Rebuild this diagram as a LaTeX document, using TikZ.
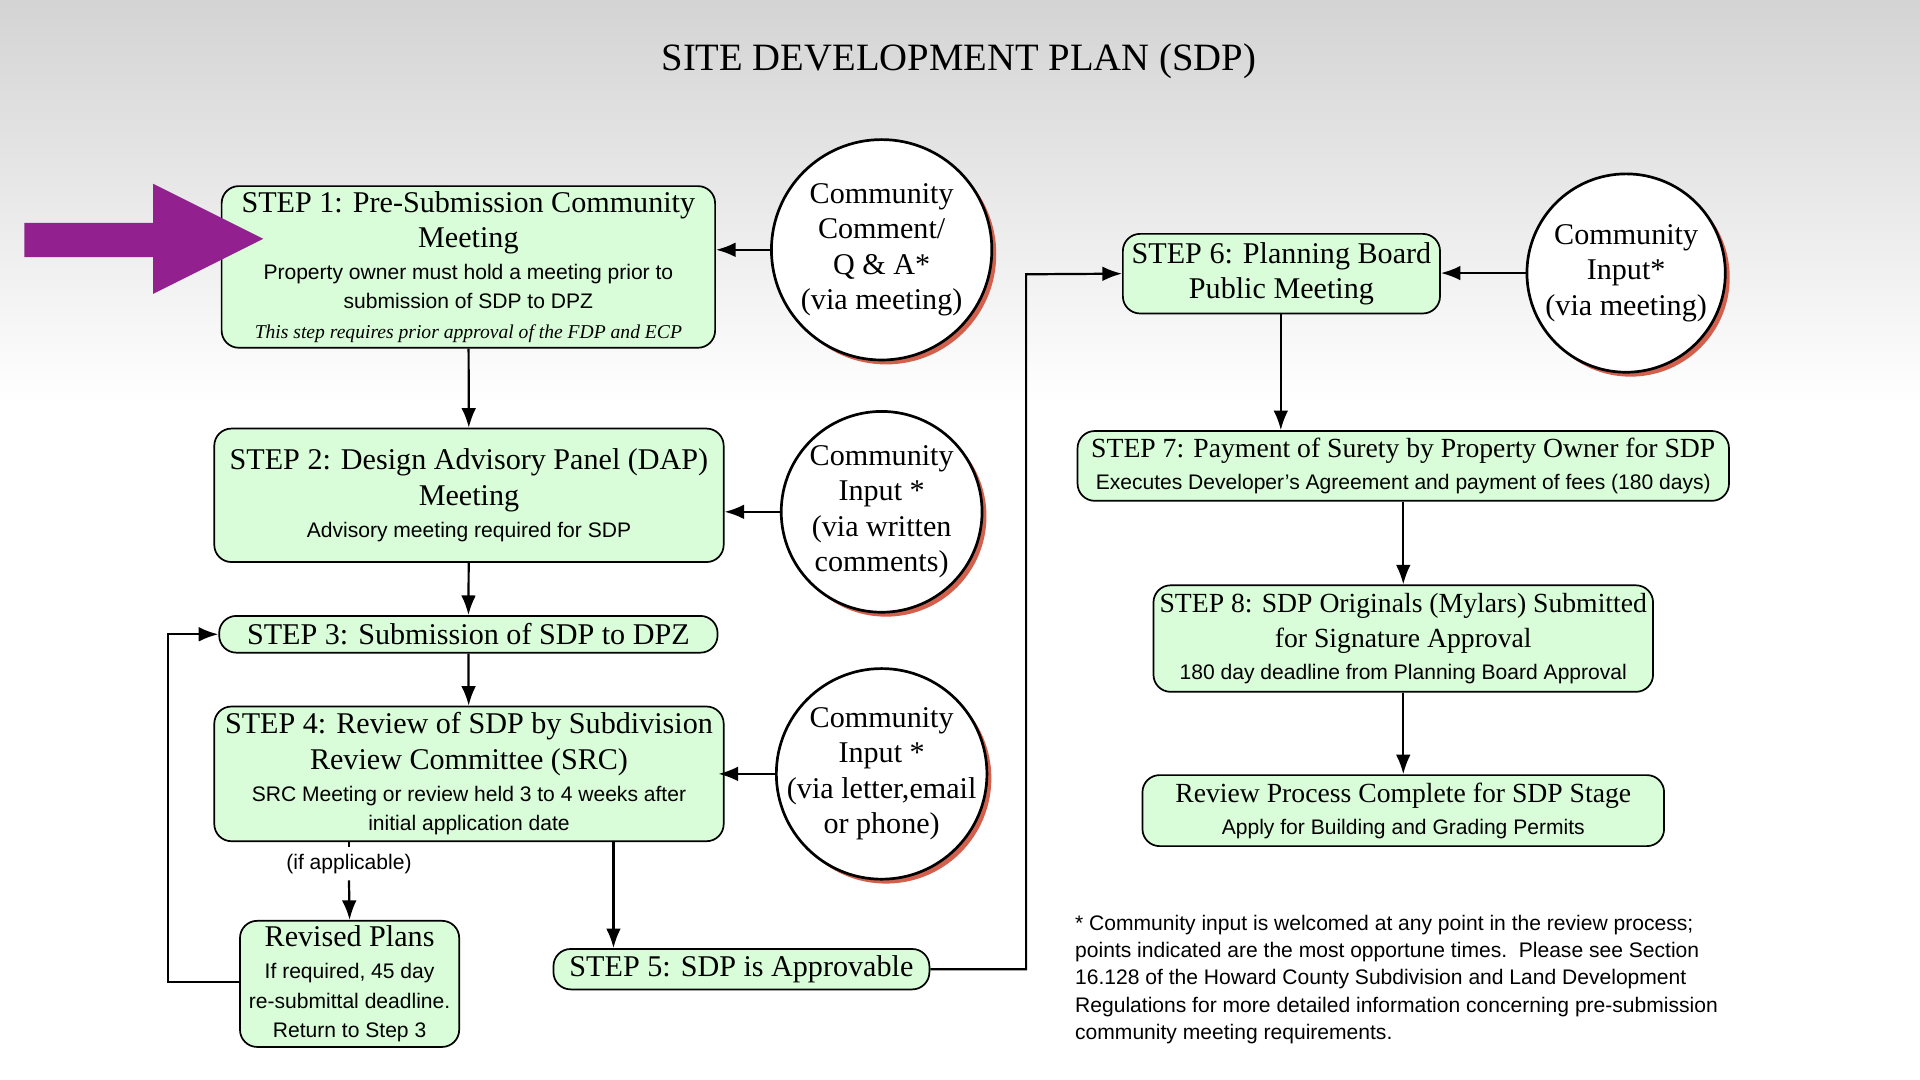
\documentclass[tikz,border=0pt]{standalone}
\usepackage{fontspec}
\setmainfont{Liberation Serif}
\setsansfont{Liberation Sans}
\usetikzlibrary{arrows.meta}
\definecolor{boxgreen}{HTML}{D9FCD9}
\definecolor{shadowred}{HTML}{D2604C}
\definecolor{arrowpurple}{HTML}{93208F}
\newcommand\hd{\rmfamily\fontsize{12.3}{14.5}\selectfont}
\newcommand\hds{\rmfamily\fontsize{11.3}{14.5}\selectfont}
\newcommand\sub{\sffamily\fontsize{8.6}{11.2}\selectfont}
\newcommand\subit{\rmfamily\itshape\fontsize{8}{11}\selectfont}
\tikzset{
  stepbox/.style={draw=black, line width=0.7pt, fill=boxgreen, rounded corners=7pt, align=center, inner sep=0pt},
  commcircle/.style={circle, draw=black, line width=1.1pt, fill=white, align=center, inner sep=0pt,
     preaction={fill=shadowred, transform canvas={shift={(1.8pt,-1.8pt)}}}},
  arr/.style={line width=0.9pt, -{Latex[length=8pt,width=6pt]}},
}
\begin{document}
\begin{tikzpicture}[x=0.5pt,y=-0.5pt]
\useasboundingbox (0,0) rectangle (1568,882);
\shade[top color=black!17, bottom color=white] (0,0) rectangle (1568,330);
\fill[white] (0,330) rectangle (1568,882);
\node (title) at (783,50) {\rmfamily\fontsize{15.8}{18}\selectfont SITE DEVELOPMENT PLAN (SDP)};
% steps
\node[stepbox, minimum width=201.5pt, minimum height=66pt] (s1) at (382.5,218)
 {\hd STEP 1: Pre-Submission Community\\[2.5pt]\hd Meeting\\[1pt]\sub Property owner must hold a meeting prior to\\\sub submission of SDP to DPZ\\\subit This step requires prior approval of the FDP and ECP};
\node[stepbox, minimum width=208pt, minimum height=54.5pt] (s2) at (383,404.5)
 {\hd STEP 2: Design Advisory Panel (DAP)\\[2.5pt]\hd Meeting\\[1pt]\sub Advisory meeting required for SDP};
\node[stepbox, minimum width=203.5pt, minimum height=15pt] (s3) at (382.5,518)
 {\hd STEP 3: Submission of SDP to DPZ};
\node[stepbox, minimum width=208pt, minimum height=55pt] (s4) at (383,632)
 {\hd STEP 4: Review of SDP by Subdivision\\[2.5pt]\hd Review Committee (SRC)\\[1pt]\sub SRC Meeting or review held 3 to 4 weeks after\\\sub initial application date};
\node[stepbox, minimum width=89.5pt, minimum height=51.5pt] (rev) at (285.5,803.5)
 {\hd Revised Plans\\[1pt]\sub If required, 45 day\\\sub re-submittal deadline.\\\sub Return to Step 3};
\node[stepbox, minimum width=153.5pt, minimum height=16.5pt] (s5) at (605.5,791.5)
 {\hd STEP 5: SDP is Approvable};
\node[stepbox, minimum width=129.5pt, minimum height=32.5pt] (s6) at (1046.5,223.5)
 {\hd STEP 6: Planning Board\\[2.5pt]\hd Public Meeting};
\node[stepbox, minimum width=266pt, minimum height=28.5pt] (s7) at (1146,380.5)
 {\hds STEP 7: Payment of Surety by Property Owner for SDP\\[1pt]\sub Executes Developer's Agreement and payment of fees (180 days)};
\node[stepbox, minimum width=204pt, minimum height=43.5pt] (s8) at (1146,521.5)
 {\hds STEP 8: SDP Originals (Mylars) Submitted\\[2.5pt]\hds for Signature Approval\\[1pt]\sub 180 day deadline from Planning Board Approval};
\node[stepbox, minimum width=213pt, minimum height=29pt] (fin) at (1146,662)
 {\hds Review Process Complete for SDP Stage\\[1pt]\sub Apply for Building and Grading Permits};
% circles
\node[commcircle, minimum size=90pt] (c1) at (720,204)
 {\hd Community\\[2.5pt]\hd Comment/\\[2.5pt]\hd Q \& A*\\[2.5pt]\hd (via meeting)};
\node[commcircle, minimum size=82pt] (c2) at (720,418)
 {\hd Community\\[2.5pt]\hd Input *\\[2.5pt]\hd (via written\\[2.5pt]\hd comments)};
\node[commcircle, minimum size=86pt, inner sep=-8pt] (c3) at (720,632)
 {\hd Community\\[2.5pt]\hd Input *\\[2.5pt]\hd (via letter,email\\[2.5pt]\hd or phone)};
\node[commcircle, minimum size=81pt] (c4) at (1328,223)
 {\hd Community\\[2.5pt]\hd Input*\\[2.5pt]\hd (via meeting)};
% purple arrow
\fill[arrowpurple] (20,182) -- (125,182) -- (125,150) -- (215,195) -- (125,240) -- (125,210) -- (20,210) -- cycle;
% connectors
\draw[arr] (s1) -- (s2);
\draw[arr] (s2) -- (s3);
\draw[arr] (s3) -- (s4);
\draw[arr] (c1.west) -- (s1.east |- c1.west);
\draw[arr] (c2.west) -- (s2.east |- c2.west);
\draw[arr] (c3.west) -- (s3.east |- c3.west) ;
\draw[arr] (c4.west) -- (s6.east |- c4.west);
\coordinate (ifa) at (285,695);
\draw[line width=0.9pt, dash pattern=on 3pt off 2pt] (s4.south -| ifa) -- (285,692);
\node[font=\sub] (iflabel) at (285,706) {(if applicable)};
\draw[arr] (285,719) -- (rev.north);
\coordinate (s4b) at (501,687);
\draw[arr] (s4b) -- (s5.north -| s4b);
\draw[arr] (rev.west |- 0,802) -| (137,518) -- (s3.west);
\draw[arr] (s5.east) -| (838,224) -- (s6.west);
\draw[arr] (s6.south -| 1046,0) -- (s7.north -| 1046,0);
\draw[arr] (s7) -- (s8);
\draw[arr] (s8) -- (fin);
\node[anchor=north west, align=left, font=\sub] (note) at (871,740)
 {* Community input is welcomed at any point in the review process;\\
 points indicated are the most opportune times.\ \ Please see Section\\
 16.128 of the Howard County Subdivision and Land Development\\
 Regulations for more detailed information concerning pre-submission\\
 community meeting requirements.};
\end{tikzpicture}
\end{document}
